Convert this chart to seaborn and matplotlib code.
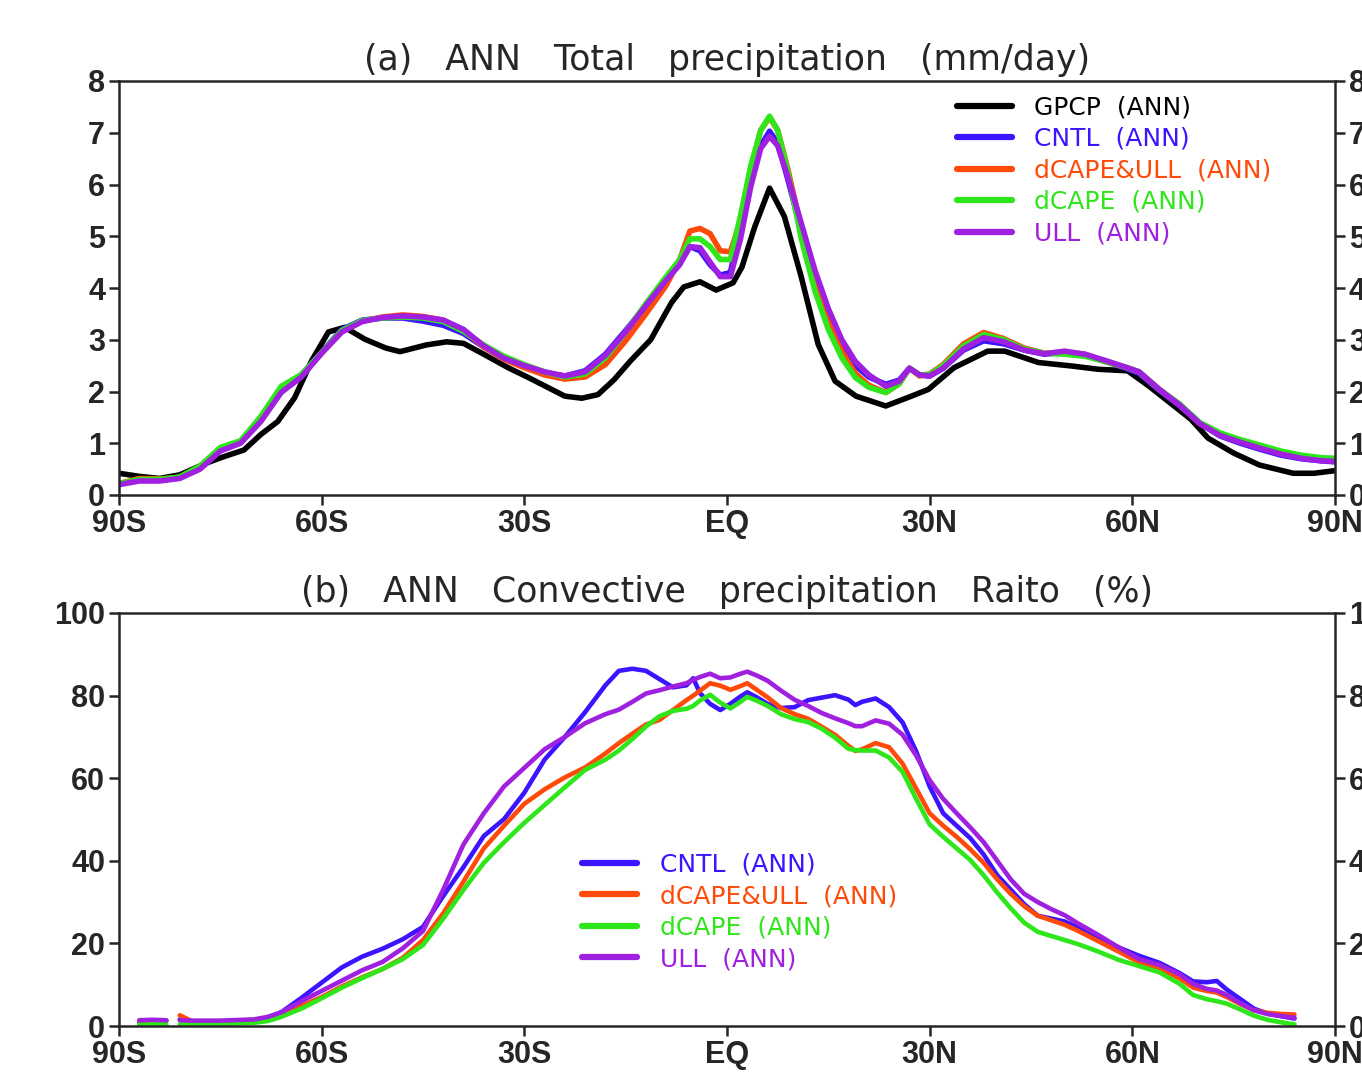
import pandas as pd
import matplotlib
matplotlib.use('Agg')
import matplotlib.pyplot as plt
from matplotlib.lines import Line2D
import seaborn as sns

# ---- (a) total precipitation, mm/day ----
gpcp_lat = [-90, -87, -84, -81, -77, -74.5, -71.5, -69, -66.5, -64, -61.5, -59, -56.6, -53.6, -50.5,
            -48.4, -44.5, -41.5, -39, -36, -32.4, -29.4, -26.4, -24, -21.5, -19.1, -16.7, -14.3,
            -11.3, -8.2, -6.4, -4, -1.6, 0.9, 2.2, 4.1, 6.3, 8.5, 11, 13.5, 16, 19.1, 23.5, 27.3,
            29.8, 33.6, 38.6, 41.1, 46.1, 51.2, 54.9, 59.3, 62.5, 65.6, 68.7, 71.2, 75, 78.8,
            83.8, 86.9, 90]
gpcp = [0.42, 0.36, 0.32, 0.39, 0.62, 0.74, 0.87, 1.17, 1.42, 1.88, 2.59, 3.15, 3.24, 3.01, 2.84,
        2.77, 2.90, 2.96, 2.93, 2.72, 2.46, 2.27, 2.07, 1.91, 1.87, 1.94, 2.23, 2.59,
        3.00, 3.72, 4.02, 4.12, 3.96, 4.10, 4.40, 5.18, 5.93, 5.38, 4.21, 2.91, 2.20, 1.91, 1.72, 1.91,
        2.04, 2.46, 2.78, 2.78, 2.56, 2.49, 2.43, 2.40, 2.10, 1.78, 1.46, 1.10, 0.81, 0.58,
        0.42, 0.42, 0.47]

lat_a = [-90, -87, -84, -81, -78, -75, -72, -69, -66, -63, -60, -57, -54, -51, -48, -45, -42, -39,
         -36, -33, -30, -27, -24, -21, -18, -15, -12, -9, -7, -5.5, -4, -2.5, -1, 0.5, 2, 3.5, 5,
         6.3, 7.5, 9, 11, 13, 15, 17, 19, 21, 23.5, 25.5, 27, 28.5, 30, 32, 35, 38, 41, 44, 47,
         50, 53, 56, 59, 61, 64, 67, 70, 73, 76, 79, 82, 85, 88, 90]
cntl_a = [0.21, 0.29, 0.29, 0.34, 0.52, 0.88, 1.02, 1.47, 2.07, 2.32, 2.76, 3.20, 3.38, 3.42, 3.42,
          3.36, 3.28, 3.12, 2.86, 2.64, 2.50, 2.36, 2.30, 2.40, 2.72, 3.18, 3.66, 4.18, 4.48, 4.80,
          4.72, 4.45, 4.25, 4.30, 5.20, 6.05, 6.75, 7.03, 6.80, 6.10, 5.10, 4.15, 3.45, 2.90, 2.50,
          2.28, 2.14, 2.22, 2.45, 2.32, 2.30, 2.45, 2.80, 2.98, 2.92, 2.80, 2.72, 2.76, 2.70, 2.58,
          2.45, 2.35, 2.02, 1.72, 1.38, 1.14, 1.00, 0.88, 0.77, 0.70, 0.66, 0.64]
both_a = [0.22, 0.32, 0.31, 0.34, 0.55, 0.90, 1.03, 1.48, 2.05, 2.30, 2.74, 3.17, 3.36, 3.44, 3.48,
          3.45, 3.38, 3.18, 2.86, 2.62, 2.46, 2.32, 2.24, 2.28, 2.52, 2.98, 3.50, 4.05, 4.55, 5.10,
          5.15, 5.05, 4.72, 4.70, 5.30, 6.30, 7.05, 7.30, 7.05, 6.30, 5.15, 4.15, 3.35, 2.78, 2.35,
          2.12, 1.98, 2.15, 2.45, 2.30, 2.34, 2.52, 2.92, 3.14, 3.02, 2.84, 2.74, 2.76, 2.72, 2.58,
          2.47, 2.38, 2.04, 1.74, 1.38, 1.16, 1.03, 0.92, 0.80, 0.73, 0.68, 0.66]
dcape_a = [0.22, 0.30, 0.30, 0.35, 0.56, 0.92, 1.05, 1.52, 2.10, 2.33, 2.75, 3.18, 3.37, 3.42, 3.44,
           3.42, 3.35, 3.16, 2.90, 2.68, 2.52, 2.38, 2.28, 2.34, 2.65, 3.15, 3.70, 4.22, 4.55, 4.95,
           4.95, 4.80, 4.55, 4.55, 5.40, 6.35, 7.05, 7.32, 7.05, 6.25, 4.95, 3.95, 3.20, 2.65, 2.27,
           2.08, 1.98, 2.15, 2.45, 2.32, 2.33, 2.50, 2.88, 3.10, 3.00, 2.82, 2.74, 2.72, 2.68, 2.58,
           2.47, 2.38, 2.04, 1.76, 1.40, 1.20, 1.07, 0.96, 0.85, 0.77, 0.72, 0.71]
ull_a = [0.20, 0.27, 0.27, 0.32, 0.50, 0.85, 1.00, 1.42, 1.98, 2.28, 2.74, 3.15, 3.35, 3.43, 3.46,
         3.44, 3.38, 3.20, 2.88, 2.64, 2.50, 2.38, 2.30, 2.38, 2.70, 3.15, 3.66, 4.15, 4.45, 4.80,
         4.78, 4.50, 4.22, 4.22, 4.95, 5.95, 6.70, 6.93, 6.75, 6.15, 5.25, 4.35, 3.60, 3.00, 2.58,
         2.32, 2.10, 2.20, 2.45, 2.32, 2.30, 2.45, 2.82, 3.04, 2.96, 2.80, 2.73, 2.78, 2.72, 2.60,
         2.47, 2.38, 2.04, 1.74, 1.38, 1.15, 1.02, 0.90, 0.79, 0.71, 0.66, 0.65]

# ---- (b) convective precipitation ratio, % ----
lat_b = [-87, -85, -83, -81, -79, -75, -70, -68, -66,
         -63, -60, -57, -54, -51, -48, -45, -42, -39, -36, -33, -30, -27, -24, -21, -18,
         -16, -14, -12, -10, -8, -6, -5, -4, -2.5, -1,
         0.5, 2, 3, 4.5, 6, 8, 10, 12, 14, 16, 18, 19, 20,
         22, 24, 26, 28, 30, 32, 34, 36, 38, 40, 42, 44, 46, 48, 50, 52,
         55, 58, 61, 64, 67, 69, 71, 72.5, 74, 76, 78, 80, 82, 84]
cntl_b = [1.0, 1.1, 1.2, 1.6, 0.9, 0.9, 1.3, 2.0, 3.3,
          6.8, 10.5, 14.2, 16.8, 18.7, 21.0, 24.0, 31.5, 38.5, 46.0, 50.1, 56.5, 64.5, 70.0, 76.0, 82.5,
          86.0, 86.5, 86.0, 84.0, 82.0, 82.5, 84.2, 80.6, 78.0, 76.5,
          78.0, 79.8, 80.8, 79.5, 78.0, 77.0, 77.2, 78.9, 79.5, 80.1, 79.0, 77.7, 78.5,
          79.3, 77.2, 73.5, 66.5, 58.0, 51.5, 48.5, 45.5, 41.5, 36.5, 33.0, 29.5, 26.7, 26.0, 25.3, 23.8,
          21.5, 19.0, 17.0, 15.3, 12.8, 10.8, 10.6, 10.9, 8.8, 6.5, 4.2, 3.0, 2.4, 1.8]
both_b = [1.2, 1.3, 1.3, 2.6, 1.0, 0.9, 1.2, 1.6, 2.7,
          4.9, 7.0, 9.6, 11.8, 13.8, 16.5, 20.8, 27.3, 35.0, 43.0, 48.5, 53.8, 57.3, 60.2, 62.6, 66.0,
          68.5, 70.8, 73.0, 74.1, 76.5, 78.9, 80.0, 81.2, 83.0, 82.4,
          81.4, 82.3, 83.0, 81.3, 79.6, 77.0, 75.5, 74.4, 72.5, 70.5, 67.8, 66.6, 67.0,
          68.5, 67.5, 63.5, 57.5, 51.5, 48.5, 45.8, 42.8, 39.5, 35.5, 32.0, 29.0, 26.7, 25.6, 24.5, 23.0,
          20.5, 18.0, 15.4, 14.0, 11.5, 9.3, 8.5, 8.1, 7.0, 5.3, 3.8, 3.2, 2.9, 2.8]
dcape_b = [0.3, 0.4, 0.4, 0.4, 0.4, 0.5, 0.8, 1.2, 2.2,
           4.2, 6.7, 9.3, 11.6, 13.8, 16.2, 19.6, 26.0, 33.0, 39.5, 44.5, 49.2, 53.5, 57.8, 62.0, 64.5,
           66.7, 69.5, 72.5, 75.0, 76.3, 76.8, 77.5, 78.8, 80.2, 78.3,
           76.9, 78.5, 79.7, 78.7, 77.5, 75.5, 74.3, 73.6, 72.0, 69.8, 67.1, 66.8, 66.7,
           66.7, 65.0, 61.5, 55.0, 48.8, 45.8, 43.0, 40.2, 36.5, 32.3, 28.5, 25.0, 22.8, 21.8, 20.8, 19.8,
           18.0, 16.0, 14.5, 13.0, 10.2, 7.5, 6.5, 6.0, 5.4, 4.0, 2.5, 1.5, 0.9, 0.4]
ull_b = [1.4, 1.5, 1.4, 1.4, 1.3, 1.3, 1.6, 2.2, 3.3,
         6.0, 8.5, 11.0, 13.5, 15.5, 18.8, 23.0, 33.0, 44.0, 51.5, 58.0, 62.5, 67.0, 70.0, 73.3, 75.5,
         76.6, 78.5, 80.5, 81.3, 82.2, 83.0, 83.8, 84.5, 85.3, 84.2,
         84.4, 85.3, 85.8, 84.8, 83.6, 81.2, 79.0, 77.5, 75.8, 74.5, 73.3, 72.6, 72.6,
         74.0, 73.2, 70.5, 65.5, 59.5, 55.0, 51.5, 48.1, 44.5, 40.0, 35.5, 32.0, 30.0, 28.3, 26.8, 24.8,
         22.0, 19.0, 16.2, 14.8, 12.5, 10.2, 9.0, 8.6, 7.5, 5.5, 3.8, 2.9, 2.4, 2.0]

runs = ['GPCP', 'CNTL', 'dCAPE&ULL', 'dCAPE', 'ULL']
colors = {'GPCP': 'black', 'CNTL': '#3c14ff', 'dCAPE&ULL': '#ff4a0a',
          'dCAPE': '#2ee61a', 'ULL': '#a020e0'}
lat_ticks = [-90, -60, -30, 0, 30, 60, 90]
lat_labels = ['90S', '60S', '30S', 'EQ', '30N', '60N', '90N']

# long tables
frames = [pd.DataFrame({'lat': gpcp_lat, 'val': gpcp, 'run': 'GPCP'})]
for name, vals in zip(runs[1:], [cntl_a, both_a, dcape_a, ull_a]):
    frames.append(pd.DataFrame({'lat': lat_a, 'val': vals, 'run': name}))
df_a = pd.concat(frames, ignore_index=True)

frames = []
for name, vals in zip(runs[1:], [cntl_b, both_b, dcape_b, ull_b]):
    frames.append(pd.DataFrame({'lat': lat_b, 'val': vals, 'run': name}))
df_b = pd.concat(frames, ignore_index=True)
df_b['seg'] = (df_b['lat'] > -83).astype(int)   # small gap near 82S

sns.set_style('ticks')
plt.rcParams['font.family'] = ['DejaVu Sans']

fig = plt.figure(figsize=(13.62, 10.72), dpi=100)
ax1 = fig.add_axes([119/1362, 1 - 495/1072, 1216/1362, 414/1072])
ax2 = fig.add_axes([119/1362, 1 - 1026/1072, 1216/1362, 413/1072])

sns.lineplot(data=df_a, x='lat', y='val', hue='run', hue_order=runs, palette=colors,
             estimator=None, lw=4, legend=False, ax=ax1)
sns.lineplot(data=df_b, x='lat', y='val', hue='run', hue_order=runs[1:], palette=colors,
             units='seg', estimator=None, lw=3.3, legend=False, ax=ax2)


def style_axis(ax, ylim, yticks, title):
    ax.set_xlim(-90, 90)
    ax.set_ylim(*ylim)
    ax.set_xticks(lat_ticks)
    ax.set_xticklabels(lat_labels)
    ax.set_yticks(yticks)
    ax.set_xlabel('')
    ax.set_ylabel('')
    for s in ax.spines.values():
        s.set_visible(True)
        s.set_linewidth(1.8)
    ax.tick_params(direction='out', length=7, width=1.8, labelsize=22, pad=3,
                   right=True, labelright=True, top=False)
    for t in ax.xaxis.get_major_ticks() + ax.yaxis.get_major_ticks():
        for lbl in (t.label1, t.label2):
            lbl.set_fontfamily('Liberation Sans')
            lbl.set_fontweight('bold')
    ax.set_title(title, fontsize=25, pad=8)


style_axis(ax1, (0, 8), range(0, 9), '(a)   ANN   Total   precipitation   (mm/day)')
style_axis(ax2, (0, 100), range(0, 101, 20),
           '(b)   ANN   Convective   precipitation   Raito   (%)')

leg_kw = dict(loc='upper left', frameon=False, fontsize=18, handlelength=2.2,
              handletextpad=0.9, labelspacing=0.3, borderpad=0, borderaxespad=0,
              labelcolor='linecolor')
h1 = [Line2D([], [], color=colors[r], lw=4.5) for r in runs]
ax1.legend(h1, [r + '  (ANN)' for r in runs], bbox_to_anchor=(0.689, 0.965), **leg_kw)
h2 = [Line2D([], [], color=colors[r], lw=4.5) for r in runs[1:]]
ax2.legend(h2, [r + '  (ANN)' for r in runs[1:]], bbox_to_anchor=(0.381, 0.42), **leg_kw)

fig.savefig('out.png', dpi=100)
